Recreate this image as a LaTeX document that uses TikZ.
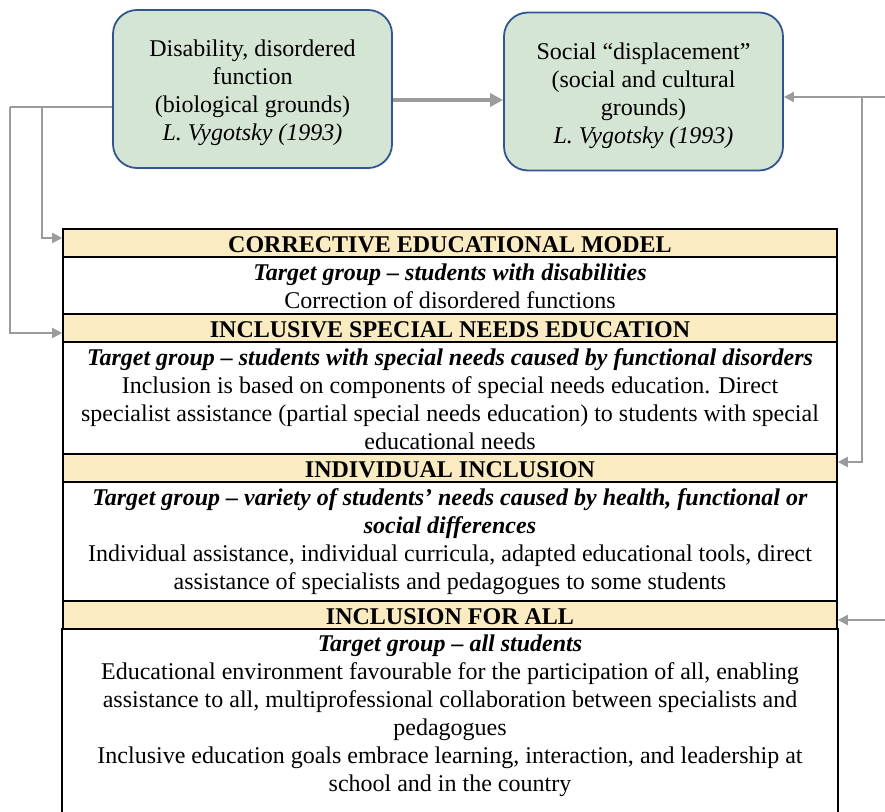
\documentclass[tikz,border=0pt]{standalone}
\usepackage{fontspec}
\setmainfont{Liberation Serif}
\usetikzlibrary{arrows.meta,calc}
\definecolor{hdrfill}{HTML}{FAEBC0}
\definecolor{boxfill}{HTML}{D5E5D3}
\definecolor{boxline}{HTML}{2F5597}
\definecolor{conncol}{HTML}{9B9B9B}
\begin{document}
\begin{tikzpicture}[x=1pt,y=-1pt,
  font=\fontsize{24}{28}\selectfont,
  topbox/.style={draw=boxline, line width=1.8pt, fill=boxfill, rounded corners=24pt,
    minimum width=279pt, minimum height=158pt, inner sep=0pt},
  boxtext/.style={align=center, inner sep=0pt},
  hdr/.style={draw=black, line width=1.6pt, fill=hdrfill, minimum width=774pt,
    minimum height=28pt, inner sep=0pt, font=\fontsize{24}{28}\selectfont\bfseries},
  hdrtext/.style={inner sep=0pt, font=\fontsize{24}{28}\selectfont\bfseries},
  body/.style={draw=black, line width=1.6pt, fill=white, minimum width=774pt,
    inner sep=0pt, align=center},
  conn/.style={draw=conncol, line width=2pt, -{Triangle[length=10pt,width=10pt]}},
  plainconn/.style={draw=conncol, line width=2pt},
  thickconn/.style={draw=conncol, line width=4pt, -{Triangle[length=13pt,width=13pt]}}]
\useasboundingbox (0,0) rectangle (885,811);

\node[topbox] (bio) at (252.5,89) {};
\node[boxtext] (biotext) at (252.5,93) {Disability, disordered\\function\\(biological grounds)\\\textit{L. Vygotsky (1993)}};
\node[topbox] (soc) at (643.5,91.5) {};
\node[boxtext] (soctext) at (643.5,96) {Social “displacement”\\(social and cultural\\grounds)\\\textit{L. Vygotsky (1993)}};

\node[body, minimum height=57pt] (b1) at (450,285.5) {};
\node[boxtext] (b1text) at (450,286.5) {\textbf{\textit{Target group – students with disabilities}}\\Correction of disordered functions};
\node[body, minimum height=112pt] (b2) at (450,398) {};
\node[boxtext] (b2text) at (450,399) {\textbf{\textit{Target group – students with special needs caused by functional disorders}}\\Inclusion is based on components of special needs education. Direct\\specialist assistance (partial special needs education) to students with special\\educational needs};
\node[body, minimum height=119pt] (b3) at (450,541.5) {};
\node[boxtext] (b3text) at (450,541.5) {\textbf{\textit{Target group – variety of students’ needs caused by health, functional or}}\\\textbf{\textit{social differences}}\\Individual assistance, individual curricula, adapted educational tools, direct\\assistance of specialists and pedagogues to some students};
\node[body, draw=none, fill=none, minimum height=182pt] (b4) at (450,720) {};
\node[boxtext] (b4text) at (450,716) {\textbf{\textit{Target group – all students}}\\Educational environment favourable for the participation of all, enabling\\assistance to all, multiprofessional collaboration between specialists and\\pedagogues\\Inclusive education goals embrace learning, interaction, and leadership at\\school and in the country};
\draw[line width=1.6pt] (b4.north west) -- ++(0,200);
\draw[line width=1.6pt] (b4.north east) -- ++(0,200);

\node[hdr] (h1) at (450,243) {};
\node[hdrtext] at (h1.center) [yshift=-1.5pt] {CORRECTIVE EDUCATIONAL MODEL};
\node[hdr] (h2) at (450,328) {};
\node[hdrtext] at (h2.center) [yshift=-1.5pt] {INCLUSIVE SPECIAL NEEDS EDUCATION};
\node[hdr] (h3) at (450,468) {};
\node[hdrtext] at (h3.center) [yshift=-1.5pt] {INDIVIDUAL INCLUSION};
\node[hdr] (h4) at (450,615) {};
\node[hdrtext] at (h4.center) [yshift=-1.5pt] {INCLUSION FOR ALL};

% connectors
\coordinate (my) at (0,100);
\draw[thickconn] (bio.east |- my) -- (soc.west |- my);

\coordinate (lo) at (10,107);
\coordinate (li) at (42,107);
\draw[plainconn] (bio.west |- lo) -- (lo);
\draw[conn] (li) |- ([yshift=5pt]h1.west);
\draw[conn] (lo) |- ([yshift=-5pt]h2.west);

\coordinate (ro) at (886,97);
\coordinate (ri) at (862,97);
\draw[conn] (ro) -- (soc.east |- ro);
\draw[conn] (ri) |- ([yshift=6pt]h3.east);
\coordinate (ro2) at (886,620);
\draw[conn] (ro2) -- ([yshift=-5pt]h4.east);
\end{tikzpicture}
\end{document}
